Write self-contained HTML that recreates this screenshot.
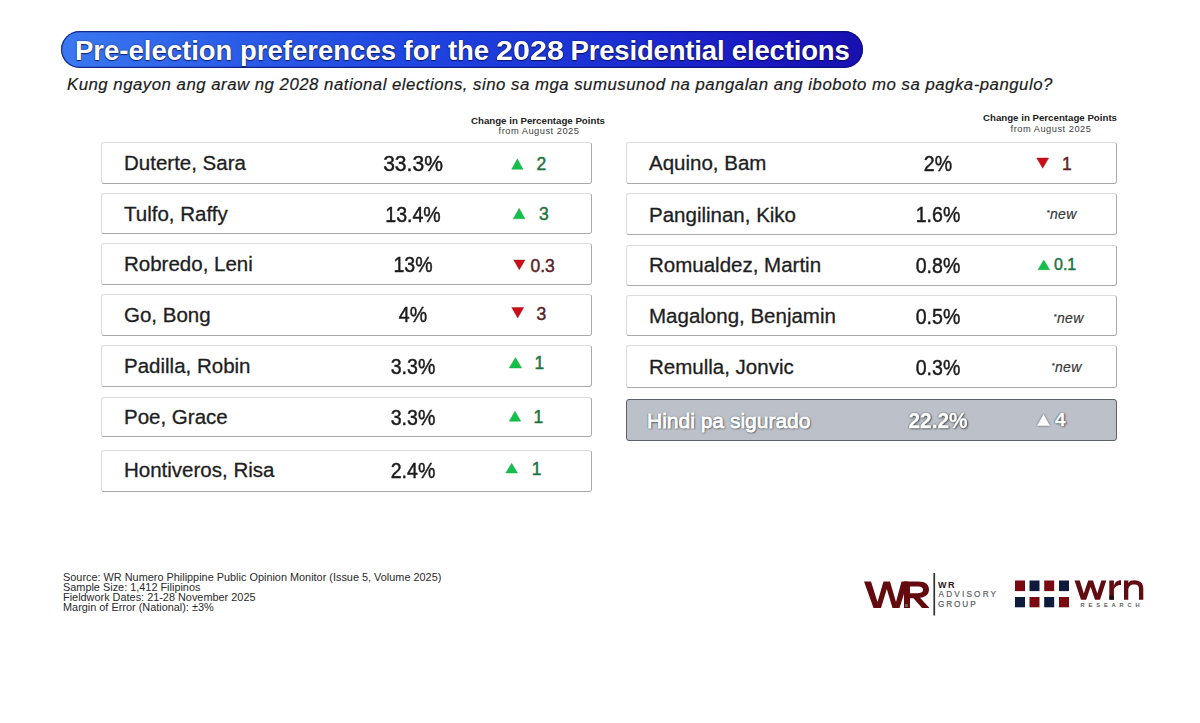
<!DOCTYPE html>
<html><head><meta charset="utf-8">
<style>
html,body{margin:0;padding:0;background:#fff;}
body{width:1200px;height:723px;position:relative;overflow:hidden;font-family:"Liberation Sans",sans-serif;color:#1a1a1a;}
.a{position:absolute;white-space:nowrap;line-height:1;}
.pill{position:absolute;left:61px;top:31px;width:802px;height:37px;border-radius:19px;box-sizing:border-box;
 background:linear-gradient(90deg,#3a78f0 0%,#2b5ce8 22%,#1f44e0 45%,#1b2ed2 70%,#1a18c0 88%,#1810b0 100%);
 box-shadow:inset 0 0 0 1.2px rgba(8,16,110,.75);}
.title{left:75px;top:37px;font-size:27.5px;font-weight:bold;color:#fff;text-shadow:0 0 1.5px rgba(0,0,50,.8),0 1px 1px rgba(0,0,40,.6);}
.sub{left:67px;top:77.3px;font-size:16.8px;letter-spacing:0.5px;font-style:italic;color:#1c1c1c;-webkit-text-stroke:0.2px #1c1c1c;}
.hd{font-size:9.7px;font-weight:bold;color:#222;text-align:center;}
.hd2{font-size:9.3px;letter-spacing:0.5px;color:#3c3c3c;text-align:center;}
.box{position:absolute;box-sizing:border-box;background:#fff;border:1px solid #dcdcdc;border-right:1.5px solid #aaaaaa;border-bottom:1.5px solid #a8a8a8;border-radius:3px;}
.nm{font-size:20.5px;color:#1e1e1e;-webkit-text-stroke:0.3px #1e1e1e;}
.pc{transform:scaleX(.91);transform-origin:50% 0;font-size:21.5px;color:#1a1a1a;-webkit-text-stroke:0.45px #1a1a1a;text-align:center;width:120px;}
.ch{font-size:17.5px;-webkit-text-stroke-width:0.45px;}
.g{color:#1c743e;}
.r{color:#5a2226;}
.nw{font-size:14px;letter-spacing:0.35px;font-style:italic;color:#383838;-webkit-text-stroke:0.2px #383838;}
.grey{background:#bcc0c8;border:1.5px solid #5c6268;border-radius:3px;}
.nm.w,.pc.w,.ch.w{color:#fff;-webkit-text-stroke:0.9px #fff;text-shadow:0 0 1px #3f444a,0 0 1px #3f444a,0 0 2px #5a6066,1px 1px 2px #50555b;}
.pc.w,.ch.w{font-weight:bold;-webkit-text-stroke:0.3px #fff;}
.ft{left:63px;top:573.3px;font-size:10.9px;line-height:9.8px;color:#2a2a2a;white-space:pre;}
</style></head><body>
<div class="pill"></div>
<div class="a title">Pre-election preferences for the</div>
<div class="a title" style="left:495.5px;transform:scaleX(1.11);transform-origin:0 0;">2028</div>
<div class="a title" style="left:570.5px;letter-spacing:-0.17px;">Presidential elections</div>
<div class="a sub">Kung ngayon ang araw ng 2028 national elections, sino sa mga sumusunod na pangalan ang iboboto mo sa pagka-pangulo?</div>

<div class="a hd" style="left:438px;top:115.7px;width:200px;">Change in Percentage Points</div>
<div class="a hd2" style="left:439px;top:127px;width:200px;">from August 2025</div>
<div class="a hd" style="left:950px;top:112.7px;width:200px;">Change in Percentage Points</div>
<div class="a hd2" style="left:951px;top:124.7px;width:200px;">from August 2025</div>

<!-- left column -->
<div class="box" style="left:101px;top:142px;width:491px;height:42px;"></div>
<div class="box" style="left:101px;top:193px;width:491px;height:41px;"></div>
<div class="box" style="left:101px;top:243px;width:491px;height:42px;"></div>
<div class="box" style="left:101px;top:294px;width:491px;height:42px;"></div>
<div class="box" style="left:101px;top:345px;width:491px;height:42px;"></div>
<div class="box" style="left:101px;top:397px;width:491px;height:40px;"></div>
<div class="box" style="left:101px;top:450px;width:491px;height:42px;"></div>

<div class="a nm" style="left:124px;top:153px;">Duterte, Sara</div>
<div class="a nm" style="left:124px;top:204px;">Tulfo, Raffy</div>
<div class="a nm" style="left:124px;top:254px;">Robredo, Leni</div>
<div class="a nm" style="left:124px;top:304.7px;">Go, Bong</div>
<div class="a nm" style="left:124px;top:356px;">Padilla, Robin</div>
<div class="a nm" style="left:124px;top:407px;">Poe, Grace</div>
<div class="a nm" style="left:124px;top:460px;">Hontiveros, Risa</div>

<div class="a pc" style="left:353px;top:153.9px;transform:scaleX(.98);">33.3%</div>
<div class="a pc" style="left:353px;top:204.9px;">13.4%</div>
<div class="a pc" style="left:353px;top:254.9px;">13%</div>
<div class="a pc" style="left:353px;top:305.2px;">4%</div>
<div class="a pc" style="left:353px;top:356.9px;">3.3%</div>
<div class="a pc" style="left:353px;top:407.9px;">3.3%</div>
<div class="a pc" style="left:353px;top:460.9px;">2.4%</div>

<!-- right column -->
<div class="box" style="left:626px;top:142px;width:491px;height:42px;"></div>
<div class="box" style="left:626px;top:193px;width:491px;height:42px;"></div>
<div class="box" style="left:626px;top:245px;width:491px;height:41px;"></div>
<div class="box" style="left:626px;top:295px;width:491px;height:41px;"></div>
<div class="box" style="left:626px;top:345px;width:491px;height:43px;"></div>
<div class="box grey" style="left:626px;top:399px;width:491px;height:42px;"></div>

<div class="a nm" style="left:649px;top:153px;">Aquino, Bam</div>
<div class="a nm" style="left:649px;top:205px;">Pangilinan, Kiko</div>
<div class="a nm" style="left:649px;top:255.3px;">Romualdez, Martin</div>
<div class="a nm" style="left:649px;top:306px;">Magalong, Benjamin</div>
<div class="a nm" style="left:649px;top:357px;">Remulla, Jonvic</div>
<div class="a nm w" style="left:647px;top:409.5px;font-size:21px;">Hindi pa sigurado</div>

<div class="a pc" style="left:878px;top:153.9px;">2%</div>
<div class="a pc" style="left:878px;top:204.9px;">1.6%</div>
<div class="a pc" style="left:878px;top:255.9px;">0.8%</div>
<div class="a pc" style="left:878px;top:306.9px;">0.5%</div>
<div class="a pc" style="left:878px;top:357.9px;">0.3%</div>
<div class="a pc w" style="left:878px;top:410.9px;transform:scaleX(.97);">22.2%</div>

<!-- change markers (svg triangles + numbers) -->
<svg class="a" style="left:0;top:0;" width="1200" height="723">
 <g fill="#14c04c" stroke="#0fa040" stroke-width="0.4">
  <polygon points="511.7,169.3 523,169.3 517.35,158.8"/>
  <polygon points="513.3,218.8 525,218.8 519.15,208.3"/>
  <polygon points="509.2,368 521.7,368 515.45,357.5"/>
  <polygon points="509.2,421.2 520.8,421.2 515,411.2"/>
  <polygon points="505.8,473 517.5,473 511.65,463.3"/>
  <polygon points="1038,269.7 1049.7,269.7 1043.85,260"/>
 </g>
 <g fill="#cc0e18" stroke="#9a0a10" stroke-width="0.4">
  <polygon points="513.7,260 525,260 519.35,269.7"/>
  <polygon points="511.7,307.5 523.7,307.5 517.7,318"/>
  <polygon points="1036.7,158 1048.7,158 1042.7,168.3"/>
 </g>
 <polygon fill="#fff" points="1037,425.8 1050,425.8 1043.5,414.2" style="filter:drop-shadow(0 0 1px rgba(60,60,60,.8))"/>
</svg>
<div class="a ch g" style="left:536.5px;top:155.8px;">2</div>
<div class="a ch g" style="left:539px;top:206px;">3</div>
<div class="a ch r" style="left:530.5px;top:257.5px;">0.3</div>
<div class="a ch r" style="left:536.5px;top:305.8px;">3</div>
<div class="a ch g" style="left:534.5px;top:354.8px;">1</div>
<div class="a ch g" style="left:533.5px;top:408.5px;">1</div>
<div class="a ch g" style="left:531.8px;top:461px;">1</div>

<div class="a ch r" style="left:1062px;top:156px;">1</div>
<div class="a nw" style="left:1046.5px;top:207px;"><span style="font-size:8px;vertical-align:4px;">*</span>new</div>
<div class="a ch g" style="left:1054px;top:257px;font-size:16px;">0.1</div>
<div class="a nw" style="left:1053.5px;top:311px;"><span style="font-size:8px;vertical-align:4px;">*</span>new</div>
<div class="a nw" style="left:1051.5px;top:360px;"><span style="font-size:8px;vertical-align:4px;">*</span>new</div>
<div class="a ch w" style="left:1055px;top:410px;font-size:19px;">4</div>

<div class="a ft">Source: WR Numero Philippine Public Opinion Monitor (Issue 5, Volume 2025)
Sample Size: 1,412 Filipinos
Fieldwork Dates: 21-28 November 2025
Margin of Error (National): ±3%</div>

<!-- logos -->
<svg class="a" style="left:0;top:0;" width="1200" height="723">
 <g fill="#640b10">
  <polygon points="864,581.5 871,581.5 877.5,602 883.5,581.5 890,581.5 896,602 901.5,581.5 908,581.5 899.5,608 892.5,608 886.8,589 881,608 873.5,608"/>
  <path fill-rule="evenodd" d="M904,581.5 H918 C926,581.5 929,585 929,589.5 C929,594 926,597 920,597.8 L929.5,608 H922 L913.5,598.3 H910 V608 H904 Z M910,586.5 H917.5 C921.5,586.5 923,588 923,589.8 C923,591.8 921.5,593.2 917.5,593.2 H910 Z"/>
 </g>
 <rect x="905" y="604" width="3" height="3" fill="#6a7e70" opacity=".7"/>
 <rect x="933.4" y="573" width="1.7" height="42.5" fill="#333"/>
 <text x="938" y="587.7" font-family="Liberation Sans" font-weight="bold" font-size="9" fill="#2a1416" letter-spacing="1.4">WR</text>
 <text x="938.5" y="597.3" font-family="Liberation Sans" font-size="8.2" fill="#5e6266" stroke="#5e6266" stroke-width="0.2" letter-spacing="2.2">ADVISORY</text>
 <text x="938" y="606.8" font-family="Liberation Sans" font-size="8.2" fill="#55595c" stroke="#55595c" stroke-width="0.2" letter-spacing="1.9">GROUP</text>

 <g>
  <rect x="1015" y="580.5" width="10" height="10.6" fill="#7a0a12"/>
  <rect x="1029.5" y="580.5" width="10" height="10.6" fill="#0e1a3c"/>
  <rect x="1044.2" y="580.5" width="10" height="10.6" fill="#7a0a12"/>
  <rect x="1059" y="580.5" width="10" height="10.6" fill="#0e1a3c"/>
  <rect x="1015" y="597" width="10" height="10.3" fill="#0e1a3c"/>
  <rect x="1029.5" y="597" width="10" height="10.3" fill="#7a0a12"/>
  <rect x="1044.2" y="597" width="10" height="10.3" fill="#0e1a3c"/>
  <rect x="1059" y="597" width="10" height="10.3" fill="#7a0a12"/>
 </g>
 <g fill="#620b10">
  <polygon points="1074.5,580.5 1079.8,580.5 1083.8,593.5 1088.2,580.5 1093,580.5 1097.3,593.5 1101.3,580.5 1106.3,580.5 1100,599.7 1095,599.7 1090.6,586.8 1086.2,599.7 1081,599.7"/>
  <rect x="1109.3" y="580.5" width="4.6" height="19.2"/>
  <path d="M1113.9,586.5 C1114.5,582.5 1117,580.3 1121,580.3 V585 C1117.5,585 1114.5,586.5 1113.9,590 Z"/>
  <path d="M1124,599.7 V580.5 H1128.3 V583 C1129.5,581 1131.5,580.3 1134,580.3 C1140,580.3 1143.3,583 1143.3,589 V599.7 H1139 V589.5 C1139,585.8 1137.5,584.6 1134.2,584.6 C1130.5,584.6 1128.3,586.5 1128.3,590.5 V599.7 Z"/>
 </g>
 <rect x="1109.5" y="595.5" width="4.4" height="4.2" fill="#141414"/>
 <text x="1080.5" y="607.2" font-family="Liberation Sans" font-size="5.6" fill="#4a4a4a" stroke="#4a4a4a" stroke-width="0.15" letter-spacing="4">RESEARCH</text>
</svg>
</body></html>
